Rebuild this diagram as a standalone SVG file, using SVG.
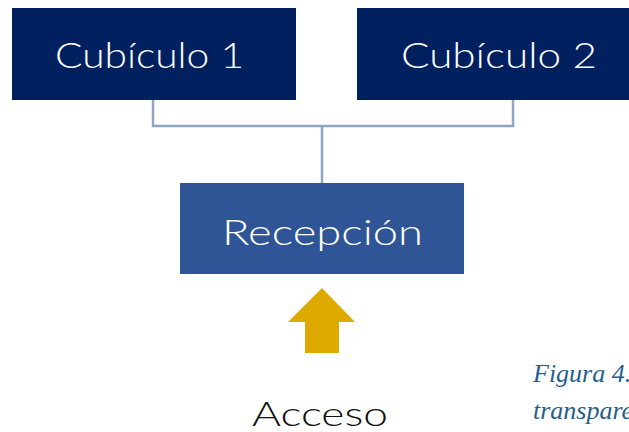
<svg xmlns="http://www.w3.org/2000/svg" width="629" height="432" viewBox="0 0 629 432">
<style>
.lbl{font-family:Lato,"DejaVu Sans",sans-serif;font-weight:300;fill:#fff;font-size:36px}
.dark{fill:#002060}
.conn{fill:none;stroke:#8FA6C3;stroke-width:2.5}
.cap{font-family:"Liberation Serif",serif;font-style:italic;fill:#1F5F8E;font-size:26px}
</style>
<rect width="629" height="432" fill="#fff"/>
<g id="connectors">
<polyline class="conn" points="153,100 153,126 513,126 513,100"/>
<line class="conn" x1="322" y1="126" x2="322" y2="183"/>
</g>
<g id="cubiculo1">
<rect class="dark" x="12" y="8" width="284" height="92"/>
<text class="lbl" x="55" y="68" textLength="189" lengthAdjust="spacingAndGlyphs">Cubículo 1</text>
</g>
<g id="cubiculo2">
<rect class="dark" x="357" y="8" width="272" height="92"/>
<text class="lbl" x="401" y="68" textLength="196" lengthAdjust="spacingAndGlyphs">Cubículo 2</text>
</g>
<g id="recepcion">
<rect x="180" y="183" width="284" height="91" fill="#2F5597"/>
<text class="lbl" x="222" y="245" textLength="201" lengthAdjust="spacingAndGlyphs">Recepción</text>
</g>
<g id="arrow">
<polygon points="322,288 355,322 339,322 339,353 305,353 305,322 288,322" fill="#DFAA00"/>
</g>
<g id="acceso">
<text x="252" y="426" font-family="Lato,'DejaVu Sans',sans-serif" font-weight="300" font-size="34" fill="#111" textLength="136" lengthAdjust="spacingAndGlyphs">Acceso</text>
</g>
<text class="cap" x="533" y="382">Figura 4.</text>
<text class="cap" x="533" y="419">transpare</text>
</svg>
